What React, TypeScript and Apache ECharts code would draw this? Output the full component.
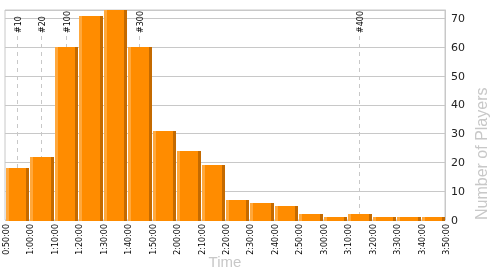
import React, { useEffect, useRef } from "react";
import * as echarts from "echarts";

// bin starts, in minutes (each bin spans 10 minutes)
const binStarts = [50, 60, 70, 80, 90, 100, 110, 120, 130, 140, 150, 160, 170, 180, 190, 200, 210, 220];
const players = [18, 22, 60, 71, 73, 60, 31, 24, 19, 7, 6, 5, 2, 1, 2, 1, 1, 1];
const binWidth = 10;

// x tick positions (minutes) and their labels
const xTicks = [50, 60, 70, 80, 90, 100, 110, 120, 130, 140, 150, 160, 170, 180, 190, 200, 210, 220, 230];
const xTickLabels = [
  "0:50:00", "1:00:00", "1:10:00", "1:20:00", "1:30:00", "1:40:00", "1:50:00",
  "2:00:00", "2:10:00", "2:20:00", "2:30:00", "2:40:00", "2:50:00", "3:00:00",
  "3:10:00", "3:20:00", "3:30:00", "3:40:00", "3:50:00",
];

// rank markers (position in minutes)
const markerLabels = ["#10", "#20", "#100", "#300", "#400"];
const markerTimes = [54.9, 64.7, 75.0, 104.8, 194.8];

const yTicks = [0, 10, 20, 30, 40, 50, 60, 70];

const FONT = "DejaVu Sans";
const NAME_FONT = "Liberation Sans";

export default function App() {
  const ref = useRef<HTMLDivElement>(null);
  useEffect(() => {
    if (!ref.current) return;
    const chart = echarts.init(ref.current, undefined, { renderer: "svg" });
    const barData = binStarts.map((s, i) => [s, s + binWidth, players[i]]);
    const markerData = markerTimes.map((t, i) => [t, markerLabels[i]]);
    chart.setOption({
      animation: false,
      grid: {
        left: 5,
        right: 55,
        top: 10,
        bottom: 55,
        containLabel: false,
        outerBoundsMode: "none",
        show: true,
        borderColor: "#c8c8c8",
        borderWidth: 1,
      },
      xAxis: {
        type: "value",
        min: 50,
        max: 230,
        interval: 10,
        name: "Time",
        nameLocation: "middle",
        nameGap: 34,
        nameTextStyle: { color: "#c8c8c8", fontFamily: NAME_FONT, fontSize: 15 },
        axisLine: { show: false },
        axisTick: { show: false },
        splitLine: { show: false },
        axisLabel: { show: false },
      },
      yAxis: {
        type: "value",
        position: "right",
        min: 0,
        max: 73,
        interval: 10,
        axisLine: { show: true, lineStyle: { color: "#c8c8c8" } },
        axisTick: { show: false },
        splitLine: { show: true, lineStyle: { color: "#c8c8c8", width: 1 } },
        axisLabel: {
          fontSize: 11,
          color: "#222",
          fontFamily: FONT,
          margin: 6,
          showMaxLabel: false,
          formatter: (v: number) => (yTicks.indexOf(v) >= 0 ? String(v) : ""),
        },
      },
      series: [
        {
          type: "custom",
          z: 1,
          data: markerData,
          encode: { x: 0 },
          renderItem: (params: any, api: any) => {
            const t = api.value(0);
            const label = markerLabels[params.dataIndex];
            const pTop = api.coord([t, 73]);
            const pBot = api.coord([t, 0]);
            const x = Math.round(pTop[0]) + 0.5;
            return {
              type: "group",
              children: [
                {
                  type: "line",
                  shape: { x1: x, y1: pTop[1] + 26, x2: x, y2: pBot[1] },
                  style: { stroke: "#c8c8c8", lineWidth: 1, lineDash: [4, 4] },
                },
                {
                  type: "text",
                  x: x + 0.5,
                  y: pTop[1] + 23,
                  rotation: Math.PI / 2,
                  style: {
                    text: label,
                    fontSize: 8,
                    fontFamily: FONT,
                    fill: "#000",
                    align: "left",
                    verticalAlign: "middle",
                  },
                },
              ],
            };
          },
        },
        {
          type: "custom",
          z: 2,
          data: barData,
          encode: { x: [0, 1], y: 2 },
          renderItem: (params: any, api: any) => {
            const s = api.value(0);
            const e = api.value(1);
            const v = api.value(2);
            const p0 = api.coord([s, 0]);
            const p1 = api.coord([e, v]);
            const x0 = Math.round(p0[0]) + 1;
            const x1 = Math.round(p1[0]);
            const yTop = Math.round(p1[1]);
            const yBot = Math.round(p0[1]) + 1;
            const w = x1 - x0;
            const h = yBot - yTop;
            return {
              type: "group",
              children: [
                { type: "rect", shape: { x: x0, y: yTop, width: w, height: h }, style: { fill: "#ff8c00" } },
                { type: "rect", shape: { x: x0, y: yTop, width: 3, height: h }, style: { fill: "#ffa83c" } },
                { type: "rect", shape: { x: x1 - 3, y: yTop, width: 3, height: h }, style: { fill: "#c46a00" } },
              ],
            };
          },
        },
      ],
    });
    // x tick labels and the y-axis title, placed through the chart's own scales
    const labelEls = xTicks.map((t, i) => {
      const p = chart.convertToPixel({ gridIndex: 0 }, [t, 0]) as number[];
      return {
        type: "text",
        x: Math.round(p[0]) + 1,
        y: p[1] + 4,
        rotation: Math.PI / 2,
        z: 10,
        style: {
          text: xTickLabels[i],
          fontSize: 8,
          fontFamily: FONT,
          fill: "#000",
          align: "right",
          verticalAlign: "middle",
        },
      };
    });
    const base = chart.convertToPixel({ gridIndex: 0 }, [230, 0]) as number[];
    chart.setOption({
      graphic: [
        ...labelEls,
        {
          type: "text",
          x: base[0] + 36,
          y: base[1],
          rotation: Math.PI / 2,
          style: {
            text: "Number of Players",
            fontSize: 16,
            fontFamily: NAME_FONT,
            fill: "#c8c8c8",
            align: "left",
            verticalAlign: "middle",
          },
        },
      ],
    });
    return () => chart.dispose();
  }, []);
  return (
    <div
      ref={ref}
      style={{ position: "fixed", left: 0, top: 0, width: 500, height: 275 }}
    />
  );
}
